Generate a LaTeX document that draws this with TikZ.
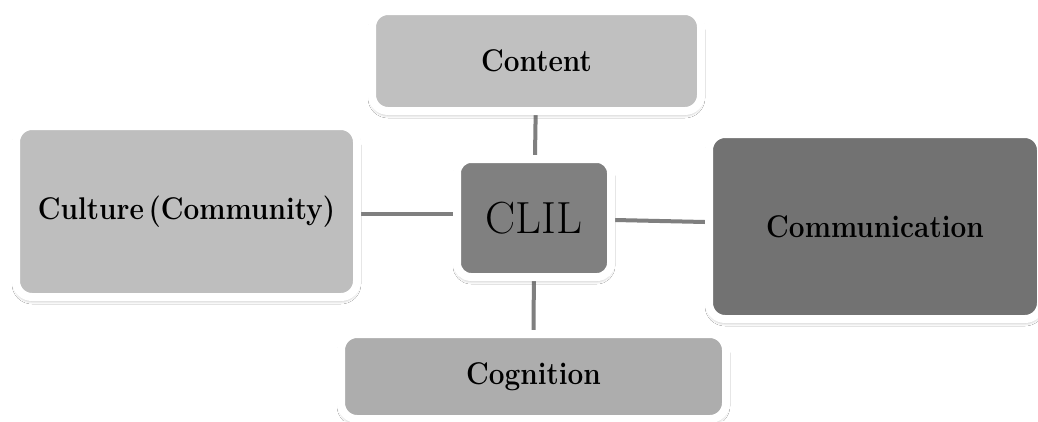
\documentclass[tikz,border=0pt]{standalone}
\usepackage{graphicx}
\usetikzlibrary{shadows.blur,backgrounds}
\definecolor{contentfill}{HTML}{C0C0C0}
\definecolor{culturefill}{HTML}{BEBEBE}
\definecolor{clilfill}{HTML}{808080}
\definecolor{commfill}{HTML}{727272}
\definecolor{cogfill}{HTML}{ADADAD}
\definecolor{linkgray}{HTML}{7F7F7F}
\tikzset{
  card/.style={draw=white, line width=8pt, rounded corners=16pt, inner sep=0pt,
    blur shadow={shadow xshift=0pt, shadow yshift=-3pt, shadow blur steps=6, shadow opacity=40, shadow blur radius=4pt},
    font=\fontsize{28}{30}\selectfont\bfseries},
  link/.style={draw=linkgray, line width=4pt}
}
\newcommand{\tall}[1]{\scalebox{1}[1.12]{#1}}
\begin{document}
\begin{tikzpicture}[x=1pt,y=-1pt]
\useasboundingbox (0,0) rectangle (1038,421);
\node[card, fill=contentfill, minimum width=329pt, minimum height=100pt] (content) at (536.5,61) {\tall{Content}};
\node[card, fill=culturefill, minimum width=341pt, minimum height=171pt] (culture) at (186.5,211.5) {\tall{Culture\,(Community)}};
\node[card, fill=clilfill, minimum width=154pt, minimum height=118pt, rounded corners=14pt, font=\fontsize{45}{48}\selectfont] (clil) at (534,218) {CLIL};
\node[card, fill=commfill, minimum width=332pt, minimum height=185pt] (comm) at (875,226.5) {\tall{Communication}};
\node[card, fill=cogfill, minimum width=385pt, minimum height=85pt] (cog) at (533.5,376.5) {\tall{Cognition}};
\begin{scope}[on background layer]
\fill[white] (0,0) rectangle (1038,421);
\draw[link] (content) -- (clil);
\draw[link] (culture.east |- 0,214) -- (clil.west |- 0,214);
\draw[link] (clil.east |- 0,220) -- (comm.west |- 0,222);
\draw[link] (clil) -- (cog);
\end{scope}
\end{tikzpicture}
\end{document}
